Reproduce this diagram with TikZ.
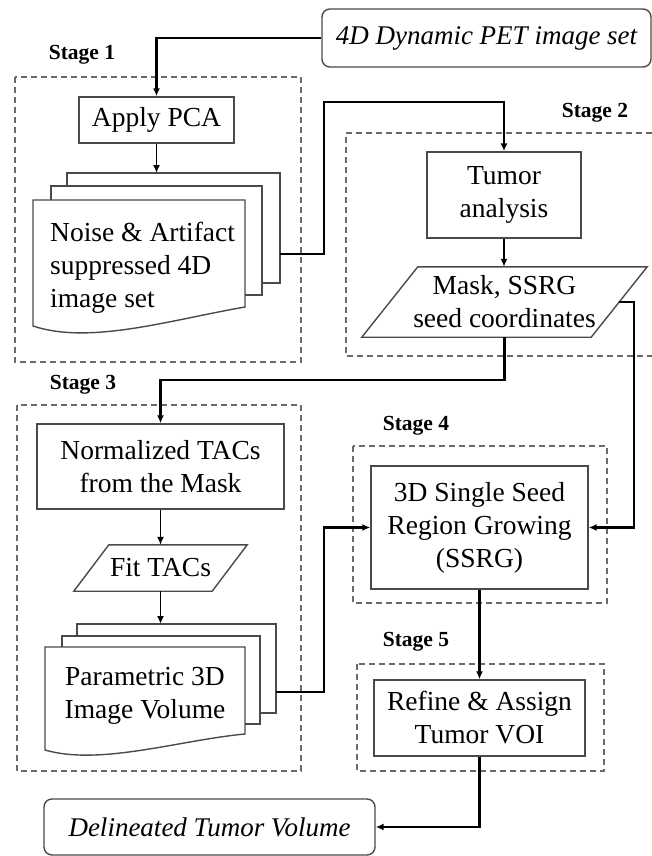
\documentclass[tikz,border=0pt]{standalone}
\usepackage{fontspec}
\setmainfont{Liberation Serif}
\usetikzlibrary{arrows.meta,calc}
\definecolor{boxgray}{HTML}{4A4A4A}
\definecolor{dashgray}{HTML}{6A6A6A}
\begin{document}
\begin{tikzpicture}[x=1pt,y=-1pt,
  txt/.style={font=\fontsize{27.5}{33}\selectfont, align=center, inner sep=0pt},
  box/.style={txt, draw=boxgray, line width=1.4pt},
  plain/.style={txt, draw=none},
  outline/.style={draw=boxgray, line width=1.4pt},
  stagebox/.style={draw=dashgray, line width=1.4pt, dash pattern=on 6pt off 4pt},
  stagelabel/.style={font=\fontsize{21.5}{25}\selectfont\bfseries, inner sep=0pt},
  conn/.style={line width=2.2pt, -{Latex[length=8pt,width=7pt]}},
  arr/.style={line width=1.6pt, -{Latex[length=8pt,width=7pt]}}
]
\useasboundingbox (0,0) rectangle (652,856);

% stage frames
\draw[stagebox] (15,77) rectangle (301,362);
\draw[stagebox] (652,133) -- (346,133) -- (346,356) -- (652,356);
\draw[stagebox] (17,405) rectangle (301,771);
\draw[stagebox] (353,446) rectangle (607,603);
\draw[stagebox] (357,664) rectangle (604,771);

\node[stagelabel] (st1) at (82,55) {Stage 1};
\node[stagelabel] (st2) at (595,113) {Stage 2};
\node[stagelabel] (st3) at (83,385) {Stage 3};
\node[stagelabel] (st4) at (416,426) {Stage 4};
\node[stagelabel] (st5) at (416,642) {Stage 5};

% input / output
\node[box, minimum width=329pt, minimum height=58pt, rounded corners=8pt,
      font=\fontsize{27}{33}\selectfont\itshape] (input) at (486.5,38) {4D Dynamic PET image set};
\node[box, minimum width=331pt, minimum height=56pt, rounded corners=8pt,
      font=\fontsize{27}{33}\selectfont\itshape] (delin) at (209.5,827) {Delineated Tumor Volume};

% stage 1
\node[box, minimum width=155pt, minimum height=46pt] (pca) at (156.5,120) {Apply PCA};
\draw[outline] (67,186) -- (67,173) -- (280,173) -- (280,283) -- (262,283);
\draw[outline] (51,200) -- (51,186) -- (262,186) -- (262,295) -- (245,295);
\draw[outline] (33,200) -- (245,200) -- (245,307) .. controls (170,320) and (90,345) .. (33,326) -- cycle;
\node[plain, anchor=west, align=left] (s1) at (50,268) {Noise \& Artifact\\suppressed 4D\\image set};
\coordinate (s1top) at (156.5,173);
\coordinate (s1right) at (280,254);
\coordinate (j1) at (324,102);

% stage 2
\node[box, minimum width=154pt, minimum height=86pt] (tumor) at (504,195) {Tumor\\analysis};
\node[plain, minimum width=285pt, minimum height=70pt] (mask) at (504.5,302) {Mask, SSRG\\seed coordinates};
\draw[outline] (mask.south west) -- ($(mask.north west)+(56,0)$) -- (mask.north east) -- ($(mask.south east)+(-56,0)$) -- cycle;
\coordinate (maskR) at ($(mask.east)+(-28,0)$);

% stage 3
\node[box, minimum width=247pt, minimum height=85pt] (norm) at (160.5,466.5) {Normalized TACs\\from the Mask};
\node[plain, minimum width=173pt, minimum height=46pt] (fit) at (160.5,568) {Fit TACs};
\draw[outline] (fit.south west) -- ($(fit.north west)+(35,0)$) -- (fit.north east) -- ($(fit.south east)+(-35,0)$) -- cycle;
\draw[outline] (77,636) -- (77,624) -- (276,624) -- (276,713) -- (260,713);
\draw[outline] (62,647) -- (62,636) -- (260,636) -- (260,724) -- (245,724);
\draw[outline] (45,647) -- (245,647) -- (245,734) .. controls (180,740) and (100,766) .. (45,750) -- cycle;
\node[plain] (s2) at (145,696) {Parametric 3D\\Image Volume};
\coordinate (s2top) at (160.5,624);
\coordinate (s2right) at (276,692);

% stage 4 and 5
\node[box, minimum width=217pt, minimum height=123pt] (ssrg) at (479.5,527.5) {3D Single Seed\\Region Growing\\(SSRG)};
\node[box, minimum width=211pt, minimum height=76pt] (refine) at (479.5,718) {Refine \& Assign\\Tumor VOI};

% connectors
\draw[conn] (input.west) -| (pca.north);
\draw[arr] (pca.south) -- (s1top);
\draw[conn] (s1right) -| (j1) -| (tumor.north);
\draw[arr] (tumor.south) -- (tumor.south |- mask.north);
\draw[conn] (maskR) -- ++(15,0) |- (ssrg.east);
\draw[conn] (mask.south) -- ++(0,43) -| (norm.north);
\draw[arr] (norm.south) -- (norm.south |- fit.north);
\draw[arr] (fit.south) -- (s2top);
\draw[conn] (s2right) -- ++(48,0) |- (ssrg.west);
\draw[conn] (ssrg.south) -- (refine.north);
\draw[conn] (refine.south) |- (delin.east);
\end{tikzpicture}
\end{document}
